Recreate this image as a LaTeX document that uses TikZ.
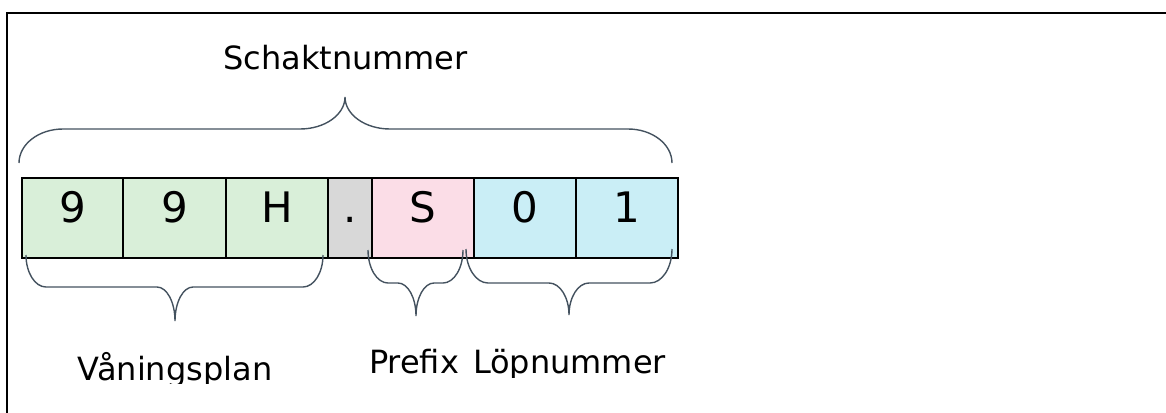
\documentclass[tikz,border=0pt]{standalone}
\usepackage{fontspec}
\setmainfont{DejaVu Sans}
\definecolor{cgreen}{HTML}{D9EFD9}
\definecolor{cgray}{HTML}{D8D8D8}
\definecolor{cpink}{HTML}{FBDDE7}
\definecolor{cblue}{HTML}{CAEEF6}
\definecolor{bracecol}{HTML}{44525F}
\tikzset{
  cell/.style={draw=black, line width=2.2pt, minimum height=80pt, inner sep=0pt},
  digit/.style={anchor=base, inner sep=0pt, font=\fontsize{42}{48}\selectfont},
  lbl/.style={anchor=base, inner sep=0pt, font=\fontsize{32}{38}\selectfont},
  bracestyle/.style={draw=bracecol, line width=1.4pt},
  frame/.style={draw=black, line width=2.6pt}
}
% x1, x2, yend, yflat, xtip, ytip, rx end, rx tip
\newcommand{\officebrace}[8]{%
  \draw[bracestyle] (#1,#3)
    .. controls (#1,{#3+0.552*(#4-#3)}) and ({#1+0.448*#7},#4) .. ({#1+#7},#4)
    -- ({#5-#8},#4)
    .. controls ({#5-#8+0.552*#8},#4) and (#5,{#6+0.552*(#4-#6)}) .. (#5,#6)
    .. controls (#5,{#6+0.552*(#4-#6)}) and ({#5+#8-0.552*#8},#4) .. ({#5+#8},#4)
    -- ({#2-#7},#4)
    .. controls ({#2-0.448*#7},#4) and (#2,{#3+0.552*(#4-#3)}) .. (#2,#3);}
\begin{document}
\begin{tikzpicture}[x=1pt,y=-1pt]
\useasboundingbox (0,0) rectangle (1166,412);
% frame (extends beyond the visible area)
\draw[frame] (7,13) rectangle (1200,440);
% cells
\node[cell, fill=cgreen, minimum width=101pt] (c1) at (72.5,217.6) {};
\node[cell, fill=cgreen, minimum width=103pt] (c2) at (174.5,217.6) {};
\node[cell, fill=cgreen, minimum width=102pt] (c3) at (277,217.6) {};
\node[cell, fill=cgray, minimum width=44pt] (c4) at (350,217.6) {};
\node[cell, fill=cpink, minimum width=102pt] (c5) at (423,217.6) {};
\node[cell, fill=cblue, minimum width=102pt] (c6) at (525,217.6) {};
\node[cell, fill=cblue, minimum width=102pt] (c7) at (627,217.6) {};
\node[digit] (t1) at (72.5,222) {9};
\node[digit] (t2) at (174.5,222) {9};
\node[digit] (t3) at (277,222) {H};
\node[digit] (t4) at (350,222) {.};
\node[digit] (t5) at (423,222) {S};
\node[digit] (t6) at (525,222) {0};
\node[digit] (t7) at (627,222) {1};
% braces
\officebrace{19}{672}{163}{129}{345}{97}{44}{45}
\officebrace{26}{323}{255}{287}{175}{321}{20}{18}
\officebrace{368}{463}{250}{283}{416}{316}{20}{18}
\officebrace{466}{672}{249}{283}{569}{315}{22}{20}
% labels
\node[lbl] (schakt) at (345.5,70) {Schaktnummer};
\begin{scope}
  \clip (0,0) rectangle (340,383);
  \node[lbl] (vaning) at (175,380) {Våningsplan};
\end{scope}
\begin{scope}
  \clip (350,0) rectangle (700,377);
  \node[lbl] (prefix) at (414,373) {Prefix};
  \node[lbl] (lopnr) at (569.5,373) {Löpnummer};
\end{scope}
\end{tikzpicture}
\end{document}
